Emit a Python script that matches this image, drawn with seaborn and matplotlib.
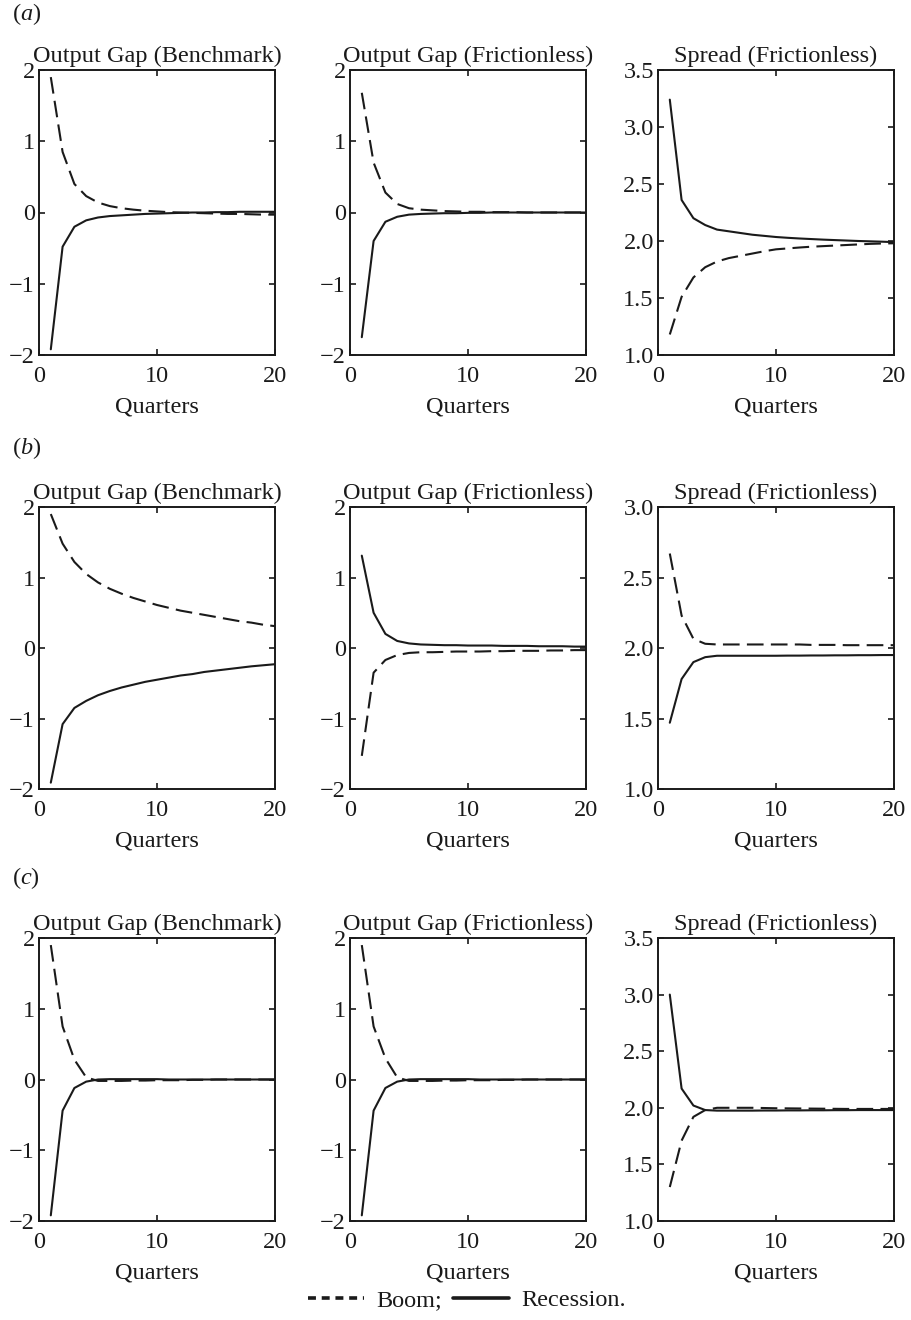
import numpy as np
import pandas as pd
import matplotlib
matplotlib.use("Agg")
import matplotlib.pyplot as plt
import seaborn as sns
from matplotlib.lines import Line2D

quarters = list(range(1, 21))

# Row (a)
a_gap_bench_boom = [1.90, 0.85, 0.40, 0.23, 0.14, 0.09, 0.06, 0.04, 0.025, 0.015,
                    0.005, 0.0, -0.005, -0.01, -0.015, -0.02, -0.02, -0.025, -0.03, -0.03]
a_gap_bench_rec = [-1.92, -0.48, -0.20, -0.11, -0.07, -0.05, -0.04, -0.03, -0.02, -0.015,
                   -0.01, -0.005, 0.0, 0.0, 0.005, 0.005, 0.01, 0.01, 0.01, 0.01]
a_gap_fric_boom = [1.68, 0.70, 0.28, 0.12, 0.06, 0.04, 0.03, 0.02, 0.015, 0.01,
                   0.01, 0.005, 0.005, 0.005, 0.0, 0.0, 0.0, 0.0, 0.0, 0.0]
a_gap_fric_rec = [-1.75, -0.40, -0.13, -0.06, -0.03, -0.02, -0.015, -0.01, -0.01, -0.005,
                  -0.005, 0.0, 0.0, 0.0, 0.0, 0.0, 0.0, 0.0, 0.0, 0.0]
a_spread_boom = [1.18, 1.51, 1.68, 1.77, 1.82, 1.85, 1.87, 1.89, 1.91, 1.927,
                 1.935, 1.943, 1.95, 1.955, 1.96, 1.965, 1.97, 1.975, 1.978, 1.98]
a_spread_rec = [3.24, 2.36, 2.20, 2.14, 2.10, 2.085, 2.07, 2.055, 2.045, 2.035,
                2.028, 2.022, 2.017, 2.012, 2.008, 2.004, 2.0, 1.997, 1.994, 1.99]

# Row (b)
b_gap_bench_boom = [1.90, 1.48, 1.22, 1.05, 0.93, 0.84, 0.77, 0.71, 0.66, 0.61,
                    0.57, 0.53, 0.50, 0.47, 0.44, 0.41, 0.38, 0.36, 0.33, 0.31]
b_gap_bench_rec = [-1.91, -1.08, -0.85, -0.75, -0.67, -0.61, -0.56, -0.52, -0.48, -0.45,
                   -0.42, -0.39, -0.37, -0.34, -0.32, -0.30, -0.28, -0.26, -0.245, -0.23]
b_gap_fric_boom = [-1.53, -0.35, -0.17, -0.10, -0.07, -0.06, -0.06, -0.055, -0.05, -0.05,
                   -0.05, -0.045, -0.045, -0.04, -0.04, -0.04, -0.035, -0.035, -0.03, -0.03]
b_gap_fric_rec = [1.31, 0.50, 0.20, 0.10, 0.065, 0.05, 0.045, 0.04, 0.04, 0.035,
                  0.035, 0.035, 0.03, 0.03, 0.03, 0.025, 0.025, 0.025, 0.02, 0.02]
b_spread_boom = [2.67, 2.23, 2.065, 2.03, 2.025, 2.025, 2.025, 2.025, 2.025, 2.025,
                 2.025, 2.025, 2.022, 2.022, 2.022, 2.02, 2.02, 2.02, 2.02, 2.02]
b_spread_rec = [1.47, 1.78, 1.90, 1.935, 1.945, 1.945, 1.945, 1.945, 1.945, 1.945,
                1.946, 1.946, 1.947, 1.947, 1.948, 1.948, 1.949, 1.949, 1.95, 1.95]

# Row (c)
c_gap_bench_boom = [1.90, 0.75, 0.28, 0.03, -0.02, -0.02, -0.02, -0.015, -0.015, -0.01,
                    -0.01, -0.01, -0.005, -0.005, 0.0, 0.0, 0.0, 0.0, 0.0, 0.0]
c_gap_bench_rec = [-1.92, -0.44, -0.12, -0.03, 0.0, 0.005, 0.005, 0.005, 0.005, 0.005,
                   0.0, 0.0, 0.0, 0.0, 0.0, 0.0, 0.0, 0.0, 0.0, 0.0]
c_gap_fric_boom = [1.90, 0.75, 0.30, 0.03, -0.02, -0.02, -0.02, -0.015, -0.015, -0.01,
                   -0.01, -0.01, -0.005, -0.005, 0.0, 0.0, 0.0, 0.0, 0.0, 0.0]
c_gap_fric_rec = [-1.92, -0.44, -0.12, -0.03, 0.0, 0.005, 0.005, 0.005, 0.005, 0.005,
                  0.0, 0.0, 0.0, 0.0, 0.0, 0.0, 0.0, 0.0, 0.0, 0.0]
c_spread_boom = [1.30, 1.71, 1.92, 1.98, 2.0, 2.0, 2.0, 2.0, 1.998, 1.996,
                 1.995, 1.994, 1.993, 1.992, 1.991, 1.99, 1.99, 1.99, 1.99, 1.99]
c_spread_rec = [3.00, 2.17, 2.02, 1.98, 1.975, 1.975, 1.975, 1.975, 1.976, 1.976,
                1.977, 1.977, 1.978, 1.978, 1.979, 1.979, 1.98, 1.98, 1.98, 1.98]

row_labels = ["a", "b", "c"]
titles = ["Output Gap (Benchmark)", "Output Gap (Frictionless)", "Spread (Frictionless)"]
series = [
    [(a_gap_bench_boom, a_gap_bench_rec), (a_gap_fric_boom, a_gap_fric_rec), (a_spread_boom, a_spread_rec)],
    [(b_gap_bench_boom, b_gap_bench_rec), (b_gap_fric_boom, b_gap_fric_rec), (b_spread_boom, b_spread_rec)],
    [(c_gap_bench_boom, c_gap_bench_rec), (c_gap_fric_boom, c_gap_fric_rec), (c_spread_boom, c_spread_rec)],
]
gap_ticks = [-2, -1, 0, 1, 2]
spread_ticks = [[1.0, 1.5, 2.0, 2.5, 3.0, 3.5], [1.0, 1.5, 2.0, 2.5, 3.0], [1.0, 1.5, 2.0, 2.5, 3.0, 3.5]]
x_ticks = [0, 10, 20]

sns.set_theme(style="ticks")
plt.rcParams["font.family"] = ["Liberation Serif", "DejaVu Serif"]
plt.rcParams["mathtext.fontset"] = "custom"
plt.rcParams["mathtext.rm"] = "Liberation Serif"
plt.rcParams["mathtext.it"] = "Liberation Serif:italic"
plt.rcParams["axes.unicode_minus"] = True

FS = 17.5
INK = "#1a1a1a"
W, H = 911, 1320
fig = plt.figure(figsize=(W / 100, H / 100), dpi=100)

col_left = [39, 350, 658]
col_w = 236
row_top = [70, 507, 938]
row_bot = [355, 789, 1221]
label_y = [14, 448, 878]

for r in range(3):
    fig.text(12 / W, 1 - label_y[r] / H, r"($\mathit{" + row_labels[r] + r"}$)",
             fontsize=FS, va="center", ha="left", color=INK)
    for c in range(3):
        boom, rec = series[r][c]
        ax = fig.add_axes([col_left[c] / W, 1 - row_bot[r] / H, col_w / W,
                           (row_bot[r] - row_top[r]) / H])
        df = pd.DataFrame({
            "Quarter": quarters * 2,
            "Value": list(boom) + list(rec),
            "Scenario": ["Boom"] * 20 + ["Recession"] * 20,
        })
        sns.lineplot(data=df, x="Quarter", y="Value", style="Scenario",
                     dashes={"Boom": (8, 3.5), "Recession": ""}, color=INK,
                     linewidth=1.5, ax=ax, legend=False)
        ax.set_xlim(0, 20)
        ax.set_xticks(x_ticks)
        ax.set_xticklabels([str(t) for t in x_ticks])
        if c < 2:
            ax.set_ylim(-2, 2)
            ax.set_yticks(gap_ticks)
            ax.set_yticklabels([str(t).replace("-", "\u2212") for t in gap_ticks])
        else:
            st = spread_ticks[r]
            ax.set_ylim(st[0], st[-1])
            ax.set_yticks(st)
            ax.set_yticklabels([f"{t:.1f}" for t in st])
        ax.set_title(titles[c], fontsize=FS, pad=6, color=INK)
        ax.set_xlabel("Quarters", fontsize=FS, labelpad=7, color=INK)
        ax.set_ylabel("")
        ax.tick_params(direction="in", top=True, right=True, length=4, width=1.2,
                       labelsize=FS, colors=INK)
        ax.tick_params(axis="x", pad=8)
        ax.tick_params(axis="y", pad=3)
        for sp in ax.spines.values():
            sp.set_visible(True)
            sp.set_linewidth(1.4)
            sp.set_color(INK)

handles = [Line2D([], [], color=INK, lw=2.6, linestyle=(0, (2.2, 1.6))),
           Line2D([], [], color=INK, lw=2.6, linestyle="-")]
fig.legend(handles, ["Boom;", "Recession."], loc="center", ncol=2, frameon=False,
           bbox_to_anchor=(467 / W, 1 - 1300 / H), fontsize=FS, handlelength=2.3,
           handletextpad=0.5, columnspacing=0.45, labelcolor=INK)

fig.savefig("out.png", dpi=100, facecolor="white")
